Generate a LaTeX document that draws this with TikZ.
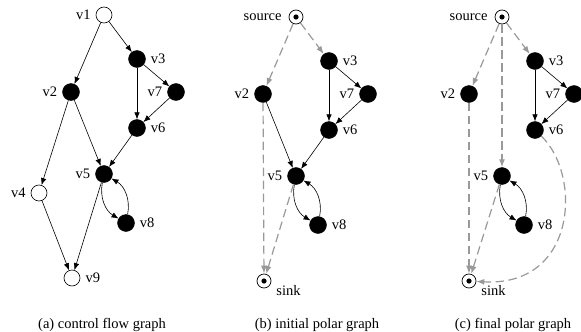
\documentclass[tikz,border=0pt]{standalone}
\usepackage{fontspec}
\setmainfont{Liberation Serif}
\usetikzlibrary{arrows.meta}
\begin{document}
\begin{tikzpicture}[x=1pt,y=-1pt,
  lbl/.style={font=\fontsize{14.5}{16}\selectfont, inner sep=1.5pt},
  every label/.style={lbl},
  label distance=3.5pt,
  vtx/.style={circle, draw=black, fill=black, minimum size=17pt, inner sep=0pt},
  opn/.style={circle, draw=black, fill=white, line width=0.6pt, minimum size=16pt, inner sep=0pt},
  pole/.style={circle, draw=black, fill=white, line width=0.7pt, minimum size=14pt, inner sep=0pt,
    path picture={\fill[black] (path picture bounding box.center) circle (2.6pt);}},
  sinklbl/.style={label={[anchor=north west, inner sep=0pt, label distance=0pt, xshift=7pt, yshift=1pt]south east:sink}},
  srclbl/.style={label={[xshift=-2pt]left:source}},
  cf/.style={draw=black, line width=0.6pt, -{Latex[length=7pt,width=5.5pt]}},
  pg/.style={draw=black!40, line width=1.2pt, dash pattern=on 8.5pt off 4.5pt,
    -{Latex[length=8pt,width=6pt,fill=black!40]}},
  captxt/.style={font=\fontsize{14.5}{16}\selectfont, inner sep=0pt}
]
\useasboundingbox (0,0) rectangle (581,332);
% ---------- panel (a)
\node[opn, label=left:v1]  (a1) at (104,15) {};
\node[vtx, label=right:v3] (a3) at (137,59) {};
\node[vtx, label=left:v2]  (a2) at (71,92) {};
\node[vtx, label=left:v7]  (a7) at (176,92) {};
\node[vtx, label=right:v6] (a6) at (137,128) {};
\node[vtx, label=left:v5]  (a5) at (104,174) {};
\node[opn, label=left:v4]  (a4) at (39,193) {};
\node[vtx, label=right:v8] (a8) at (126,223) {};
\node[opn, label=right:v9] (a9) at (72,278) {};
\draw[cf] (a1) -- (a2);
\draw[cf] (a1) -- (a3);
\draw[cf] (a3) -- (a7);
\draw[cf] (a3) -- (a6);
\draw[cf] (a7) -- (a6);
\draw[cf] (a2) -- (a5);
\draw[cf] (a6) -- (a5);
\draw[cf] (a2) -- (a4);
\draw[cf] (a4) -- (a9);
\draw[cf] (a5) -- (a9);
\draw[cf] (a5) to[bend right=35] (a8);
\draw[cf] (a8) to[bend right=35] (a5);
\node[captxt] (capa) at (102,325) {(a) control flow graph};
% ---------- panel (b)
\node[pole, srclbl] (bs) at (296,17) {};
\node[vtx, label=right:v3] (b3) at (329,61) {};
\node[vtx, label=left:v2]  (b2) at (263,94) {};
\node[vtx, label=left:v7]  (b7) at (368,94) {};
\node[vtx, label=right:v6] (b6) at (329,130) {};
\node[vtx, label=left:v5]  (b5) at (296,176) {};
\node[vtx, label=right:v8] (b8) at (318,225) {};
\node[pole, sinklbl] (bk) at (264,281) {};
\draw[pg] (bs) -- (b2);
\draw[pg] (bs) -- (b3);
\draw[cf] (b3) -- (b7);
\draw[cf] (b3) -- (b6);
\draw[cf] (b7) -- (b6);
\draw[cf] (b2) -- (b5);
\draw[cf] (b6) -- (b5);
\draw[cf] (b5) to[bend right=35] (b8);
\draw[cf] (b8) to[bend right=35] (b5);
\draw[pg] (b2) -- (bk);
\draw[pg] (b5) -- (bk);
\node[captxt] (capb) at (317,325) {(b) initial polar graph};
% ---------- panel (c)
\node[pole, srclbl] (cs) at (502,17) {};
\node[vtx, label=right:v3] (c3) at (535,61) {};
\node[vtx, label=left:v2]  (c2) at (469,94) {};
\node[vtx, label=left:v7]  (c7) at (574,94) {};
\node[vtx, label=right:v6] (c6) at (535,130) {};
\node[vtx, label=left:v5]  (c5) at (502,176) {};
\node[vtx, label=right:v8] (c8) at (524,225) {};
\node[pole, sinklbl] (ck) at (469,281) {};
\draw[pg] (cs) -- (c2);
\draw[pg] (cs) -- (c5);
\draw[pg] (cs) -- (c3);
\draw[cf] (c3) -- (c7);
\draw[cf] (c3) -- (c6);
\draw[cf] (c7) -- (c6);
\draw[cf] (c5) to[bend right=35] (c8);
\draw[cf] (c8) to[bend right=35] (c5);
\draw[pg] (c2) -- (ck);
\draw[pg] (c5) -- (ck);
\draw[pg] (c6) .. controls (582,175) and (577,287) .. (ck);
\node[captxt] (capc) at (513,325) {(c) final polar graph};
\end{tikzpicture}
\end{document}
